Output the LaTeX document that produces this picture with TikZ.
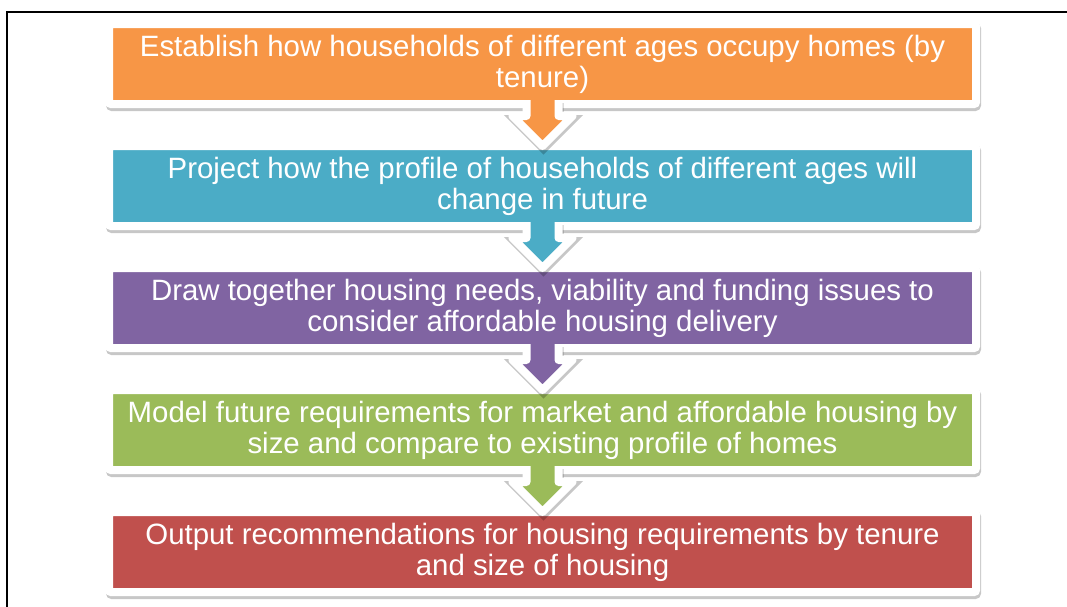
\documentclass[tikz,border=0pt]{standalone}
\usepackage{fontspec}
\setmainfont{Liberation Sans}
\usetikzlibrary{positioning,shadows,calc}
\definecolor{orangebox}{HTML}{F79646}
\definecolor{tealbox}{HTML}{4BACC6}
\definecolor{purplebox}{HTML}{8064A2}
\definecolor{greenbox}{HTML}{9BBB59}
\definecolor{redbox}{HTML}{C0504D}
\tikzset{sc/.style={x=1pt,y=-1pt,node distance=42pt},
  softshadow/.style={drop shadow={shadow xshift=1pt,shadow yshift=-3pt,opacity=.22,fill=black,draw=black,line width=8pt}},
  stagebox/.style={softshadow,draw=white,line width=8pt,rounded corners=2pt,minimum width=867pt,minimum height=80pt,
    inner sep=0pt,outer sep=0pt,text=white,align=center,font=\fontsize{29.4}{31}\selectfont},
  flowarrow/.style={softshadow,draw=white,line width=8pt,line join=round}}
% down arrow from one stage to the next, fill in the colour of the upper stage
\newcommand{\stagearrow}[3]{\draw[flowarrow,fill=#3] ($(#1.south)+(-16,-4)$)--($(#2.north)+(-16,-30)$)--($(#2.north)+(-30,-30)$)
  --(#2.north)--($(#2.north)+(30,-30)$)--($(#2.north)+(16,-30)$)--($(#1.south)+(16,-4)$);}

\begin{document}
\begin{tikzpicture}[sc]
  \useasboundingbox (0,0) rectangle (1067,606);\clip (0,0) rectangle (1067,606);
  \draw[line width=2pt] (7,620) |- (1080,12);
  \node[stagebox,fill=orangebox] (establish) at (542.5,64){Establish how households of different ages occupy homes (by\\tenure)};
  \node[stagebox,fill=tealbox,below=of establish] (project){Project how the profile of households of different ages will\\change in future};
  \node[stagebox,fill=purplebox,below=of project] (draw){Draw together housing needs, viability and funding issues to\\consider affordable housing delivery};
  \node[stagebox,fill=greenbox,below=of draw] (model){Model future requirements for market and affordable housing by\\size and compare to existing profile of homes};
  \node[stagebox,fill=redbox,below=of model] (output){Output recommendations for housing requirements by tenure\\and size of housing};
  \stagearrow{establish}{project}{orangebox}
  \stagearrow{project}{draw}{tealbox}
  \stagearrow{draw}{model}{purplebox}
  \stagearrow{model}{output}{greenbox}
\end{tikzpicture}
\end{document}
